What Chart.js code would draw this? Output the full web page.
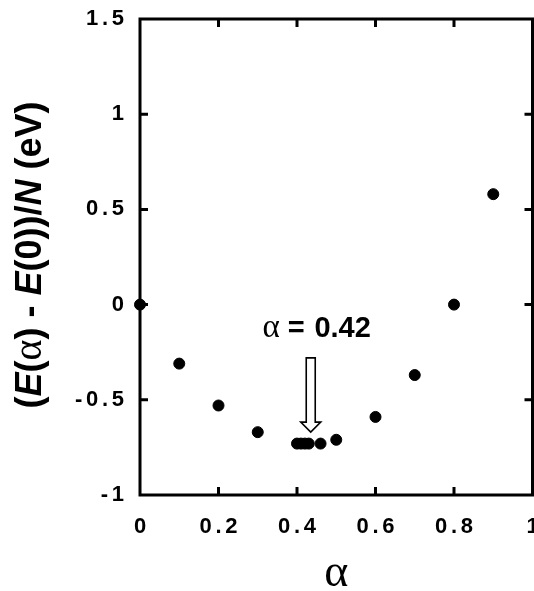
<!DOCTYPE html>
<html>
<head>
<meta charset="utf-8">
<script src="https://cdn.jsdelivr.net/npm/chart.js@4.4.1/dist/chart.umd.min.js"></script>
<style>
  html, body { margin: 0; padding: 0; background: #fff; }
  #energyChart { display: block; }
</style>
</head>
<body>
<canvas id="energyChart" width="534" height="591"></canvas>
<script>
// mixing parameter alpha and energy per atom relative to alpha = 0
const alphaValues = [0, 0.1, 0.2, 0.3, 0.40, 0.41, 0.42, 0.43, 0.46, 0.5, 0.6, 0.7, 0.8, 0.9];
const energyValues = [0, -0.31, -0.53, -0.67, -0.73, -0.73, -0.73, -0.73, -0.73, -0.71, -0.59, -0.37, 0.0, 0.58];

const xTicks = [0, 0.2, 0.4, 0.6, 0.8, 1];
const yTicks = [-1, -0.5, 0, 0.5, 1, 1.5];

// minimum marker: label and arrow (data units)
const minAlpha = 0.42;
const arrowX = 0.435;
const arrowTop = -0.28;
const arrowTip = -0.67;
const labelX = 0.45;
const labelY = -0.17;

const sans = "'Liberation Sans', Arial, Helvetica, sans-serif";
const serif = "'Liberation Serif', 'Times New Roman', serif";

function spaced(v) {
  let s = String(Math.round(v * 10) / 10);
  return s.split("").join("\u2006");
}

// box round the plot with ticks pointing inwards
const framePlugin = {
  id: "frame",
  beforeDatasetsDraw(chart) {
    const ctx = chart.ctx;
    const a = chart.chartArea;
    const xs = chart.scales.x, ys = chart.scales.y;
    const len = 8;
    ctx.save();
    ctx.strokeStyle = "#000";
    ctx.lineWidth = 3;
    ctx.strokeRect(a.left, a.top, a.right - a.left, a.bottom - a.top);
    ctx.beginPath();
    xTicks.slice(1, -1).forEach(function (t) {
      const px = xs.getPixelForValue(t);
      ctx.moveTo(px, a.bottom); ctx.lineTo(px, a.bottom - len);
      ctx.moveTo(px, a.top); ctx.lineTo(px, a.top + len);
    });
    yTicks.slice(1, -1).forEach(function (t) {
      const py = ys.getPixelForValue(t);
      ctx.moveTo(a.left, py); ctx.lineTo(a.left + len, py);
      ctx.moveTo(a.right, py); ctx.lineTo(a.right - len, py);
    });
    ctx.stroke();
    ctx.restore();
  }
};

function drawRuns(ctx, runs, x, y) {
  let total = 0;
  runs.forEach(function (r) { ctx.font = r.font; r.w = ctx.measureText(r.text).width; total += r.w; });
  let cx = x - total / 2;
  runs.forEach(function (r) {
    ctx.font = r.font;
    ctx.fillText(r.text, cx, y);
    cx += r.w;
  });
}

const titlesPlugin = {
  id: "titles",
  afterDraw(chart) {
    const ctx = chart.ctx;
    const a = chart.chartArea;
    ctx.save();
    ctx.fillStyle = "#000";
    ctx.textAlign = "left";
    ctx.textBaseline = "alphabetic";

    // x axis title
    ctx.font = "46px " + serif;
    ctx.textAlign = "center";
    ctx.fillText("\u03b1", (a.left + a.right) / 2, 586);
    ctx.textAlign = "left";

    // y axis title, rotated
    const b = "bold 36px " + sans, bi = "italic bold 36px " + sans, g = "40px " + serif;
    ctx.translate(41, (a.top + a.bottom) / 2 - 2);
    ctx.rotate(-Math.PI / 2);
    drawRuns(ctx, [
      { text: "(", font: b }, { text: "E", font: bi }, { text: "(", font: b },
      { text: "\u03b1", font: g }, { text: ") - ", font: b }, { text: "E", font: bi },
      { text: "(0))/", font: b }, { text: "N", font: bi }, { text: " (eV)", font: b }
    ], 0, 0);
    ctx.restore();
  }
};

const markerPlugin = {
  id: "marker",
  afterDatasetsDraw(chart) {
    const ctx = chart.ctx;
    const xs = chart.scales.x, ys = chart.scales.y;
    ctx.save();
    ctx.fillStyle = "#000";
    ctx.textBaseline = "alphabetic";
    drawRuns(ctx, [
      { text: "\u03b1", font: "33px " + serif },
      { text: " =\u2004" + minAlpha.toFixed(2), font: "bold 29px " + sans }
    ], xs.getPixelForValue(labelX), ys.getPixelForValue(labelY));

    // hollow arrow pointing down at the minimum
    const ax = xs.getPixelForValue(arrowX);
    const top = ys.getPixelForValue(arrowTop);
    const tip = ys.getPixelForValue(arrowTip);
    const shaft = 4.5, head = 10, headLen = 10;
    ctx.beginPath();
    ctx.moveTo(ax - shaft, top);
    ctx.lineTo(ax + shaft, top);
    ctx.lineTo(ax + shaft, tip - headLen);
    ctx.lineTo(ax + head, tip - headLen);
    ctx.lineTo(ax, tip);
    ctx.lineTo(ax - head, tip - headLen);
    ctx.lineTo(ax - shaft, tip - headLen);
    ctx.closePath();
    ctx.fillStyle = "#fff";
    ctx.fill();
    ctx.strokeStyle = "#000";
    ctx.lineWidth = 1.6;
    ctx.stroke();
    ctx.restore();
  }
};

const points = alphaValues.map(function (x, i) { return { x: x, y: energyValues[i] }; });

new Chart(document.getElementById("energyChart"), {
  type: "scatter",
  data: {
    datasets: [{
      data: points,
      backgroundColor: "#000",
      borderColor: "#000",
      pointRadius: 5.5,
      pointHoverRadius: 5.5,
      clip: false
    }]
  },
  options: {
    responsive: false,
    animation: false,
    devicePixelRatio: 1,
    layout: { autoPadding: false, padding: { top: 19, right: 1.5, left: 0, bottom: 0 } },
    plugins: { legend: { display: false }, tooltip: { enabled: false } },
    scales: {
      x: {
        type: "linear",
        min: 0, max: 1,
        afterBuildTicks(scale) { scale.ticks = xTicks.map(function (v) { return { value: v }; }); },
        afterFit(scale) { scale.height = 96; scale.paddingLeft = 0; scale.paddingRight = 0; },
        grid: { display: false, drawTicks: false },
        border: { display: false },
        ticks: {
          color: "#000",
          padding: 19,
          maxRotation: 0,
          font: { family: sans, weight: "bold", size: 22 },
          callback: spaced
        }
      },
      y: {
        min: -1, max: 1.5,
        afterBuildTicks(scale) { scale.ticks = yTicks.map(function (v) { return { value: v }; }); },
        afterFit(scale) { scale.width = 140; scale.paddingTop = 0; scale.paddingBottom = 0; },
        grid: { display: false, drawTicks: false },
        border: { display: false },
        ticks: {
          color: "#000",
          padding: 16,
          font: { family: sans, weight: "bold", size: 22 },
          callback: spaced
        }
      }
    }
  },
  plugins: [framePlugin, markerPlugin, titlesPlugin]
});
</script>
</body>
</html>
